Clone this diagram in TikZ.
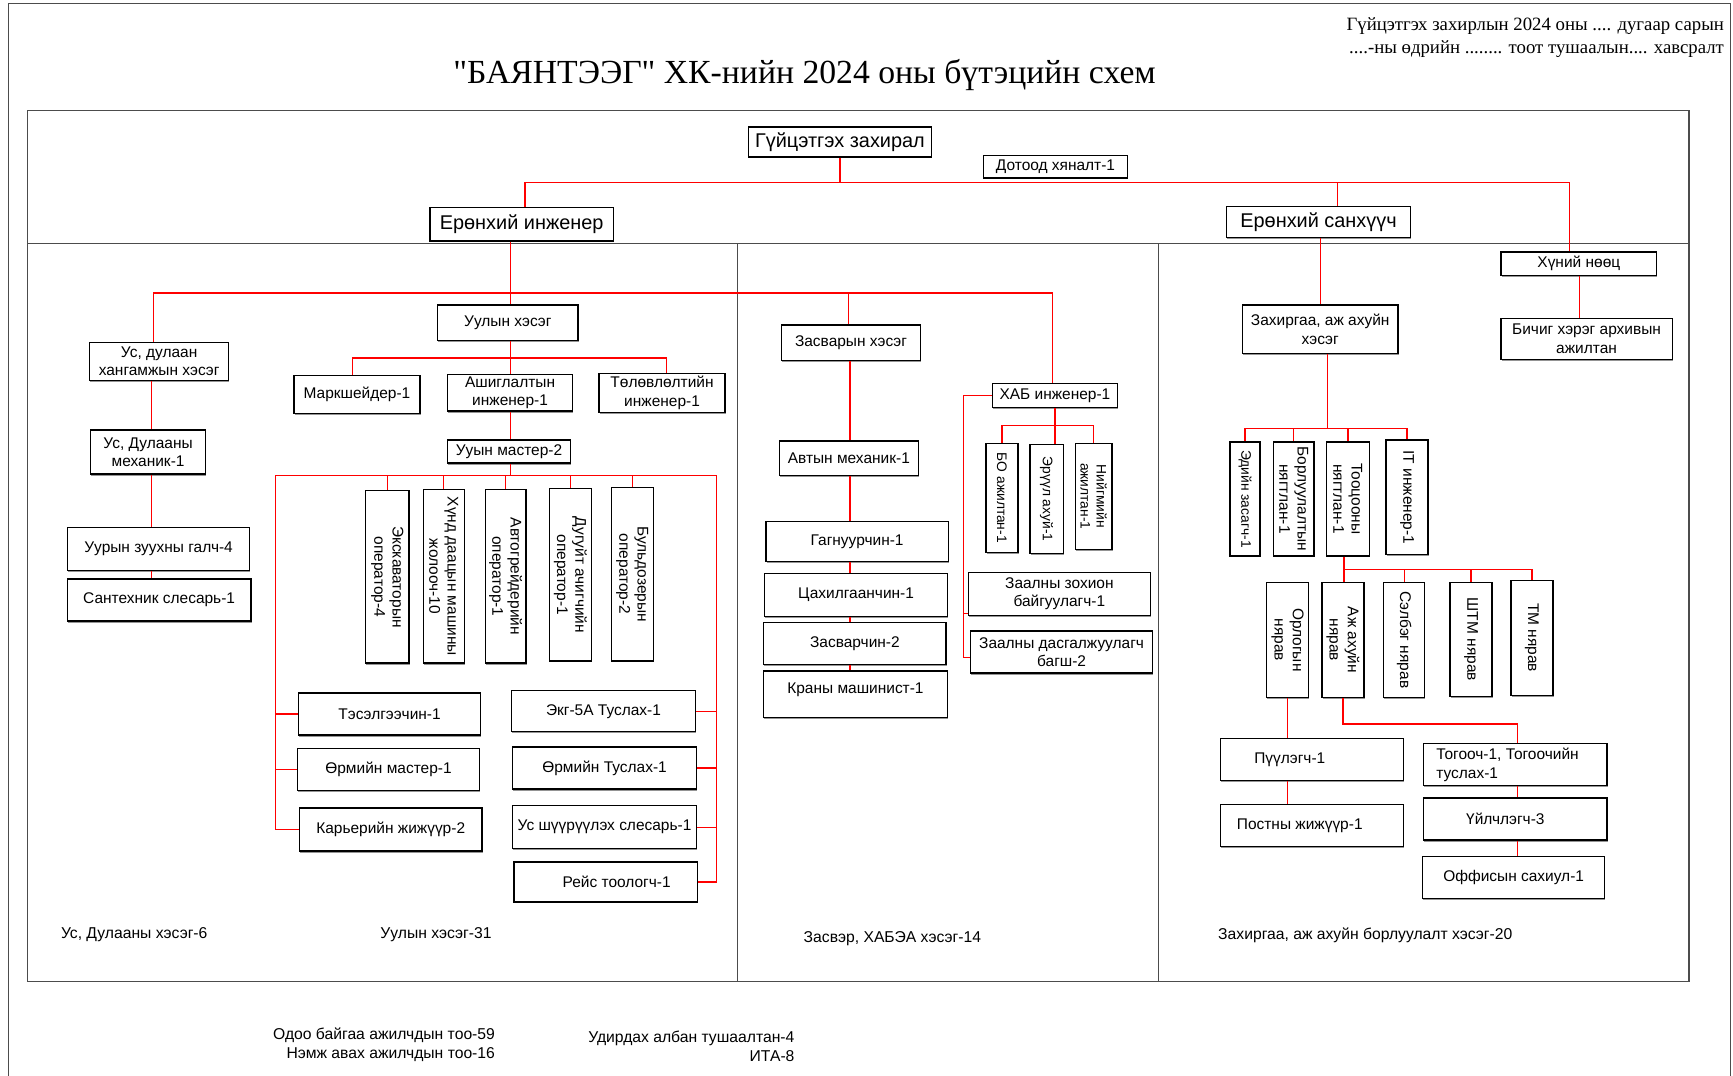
\documentclass[tikz,border=0pt]{standalone}
\usepackage{fontspec}
\setmainfont{Liberation Sans}
\newfontfamily\serifrm{Liberation Serif}
\usetikzlibrary{shadows}
\newcommand\mybox[7][]{\node[box,minimum width={(#4)-(#3)},minimum height={(#6)-(#5)},#1] (#2) at ({((#3)+(#4))/2},{((#5)+(#6))/2}) {#7};}
\newcommand\myvbox[7][]{\node[box,rotate=-90,minimum width={(#6)-(#5)},minimum height={(#4)-(#3)},#1] (#2) at ({((#3)+(#4))/2},{((#5)+(#6))/2}) {#7};}
\begin{document}
\begin{tikzpicture}[x=1pt,y=-1pt,
  box/.style={draw=black, line width=1.2pt, fill=white, inner sep=1pt, align=center,
    font=\fontsize{14}{16.5}\selectfont,
    drop shadow={shadow xshift=0.6pt, shadow yshift=-1.4pt, fill=black!60, opacity=0.7}},
  big/.style={font=\fontsize{18}{20}\selectfont},
  small/.style={font=\fontsize{12.5}{14.5}\selectfont},
  link/.style={draw=red, line width=1.2pt},
  frame/.style={draw=black!70, line width=1pt},
  lbl/.style={font=\fontsize{14.2}{17}\selectfont, inner sep=0pt},
]
\useasboundingbox (0,0) rectangle (1568,973.5);
% page borders
\draw[frame] (8,974) -- (8,3) -- (1566,3) -- (1566,974);
% main frame
\draw[frame, line width=1.3pt] (25,100) rectangle (1528,888);
\draw[frame] (25,220) -- (1528,220);
\draw[frame] (667,220) -- (667,888);
\draw[frame] (1048,220) -- (1048,888);

% titles
\node[font=\serifrm\fontsize{30.5}{33}\selectfont, inner sep=0pt] (title) at (728,68) {"БАЯНТЭЭГ" ХК-нийн 2024 оны бүтэцийн схем};
\node[font=\serifrm\fontsize{17}{20}\selectfont, align=right, anchor=east, inner sep=0pt] (order) at (1560,34) {Гүйцэтгэх захирлын 2024 оны .... дугаар сарын\\....-ны өдрийн ........ тоот тушаалын.... хавсралт};

% top band
\mybox[big]{ceo}{677}{843}{115}{142}{Гүйцэтгэх захирал}
\mybox{audit}{890}{1020}{141}{161}{Дотоод хяналт-1}
\mybox{ei}{389}{555}{188}{218}{}
\node[font=\fontsize{18}{20}\selectfont, inner sep=0pt] (eit) at (ei.center) {Ерөнхий инженер};
\mybox[big]{cfo}{1110}{1276}{187}{215}{Ерөнхий санхүүч}
\mybox{hr}{1358}{1499}{228}{249}{Хүний нөөц}

% water section
\mybox{water}{81}{207}{310}{344}{Ус, дулаан\\хангамжын хэсэг}
\mybox{mech}{82}{186}{389}{429}{Ус, Дулааны\\механик-1}
\mybox{boiler}{61}{226}{477}{516}{Уурын зуухны галч-4}
\mybox{plumb}{61}{227}{524}{562}{Сантехник слесарь-1}

% mining section
\mybox{mining}{396}{523}{276}{308}{Уулын хэсэг}
\mybox{marks}{266}{380}{340}{374}{Маркшейдер-1}
\mybox{ashig}{405}{518}{339}{372}{Ашиглалтын\\инженер-1}
\mybox{plan}{542}{656}{338}{373}{Төлөвлөлтийн\\инженер-1}
\mybox{master}{405}{516}{398}{419}{Ууын мастер-2}
\myvbox{exc}{331}{370}{444}{600}{Экскаваторын\\оператор-4}
\myvbox{truck}{383}{420}{443}{600}{Хүнд даацын машины\\жолооч-10}
\myvbox{grader}{439}{476}{443}{600}{Автогрейдерийн\\оператор-1}
\myvbox{loader}{497}{535}{442}{598}{Дугуйт ачигчийн\\оператор-1}
\myvbox{dozer}{553}{591}{441}{598}{Бульдозерын\\оператор-2}
\mybox{blast}{270}{435}{627}{665}{Тэсэлгээчин-1}
\mybox{drillm}{269}{434}{677}{715}{Өрмийн мастер-1}
\mybox{guard}{271}{436}{731}{770}{Карьерийн жижүүр-2}
\mybox{ekg}{463}{629}{625}{662}{Экг-5А Туслах-1}
\mybox{drilla}{464}{630}{676}{714}{Өрмийн Туслах-1}
\mybox{pump}{464}{630}{729}{768}{Ус шүүрүүлэх слесарь-1}
\mybox{trip}{465}{631}{780}{816}{\hspace*{20pt}Рейс тоологч-1}

% repair section
\mybox{repair}{707}{833}{294}{326}{Засварын хэсэг}
\mybox{automech}{705}{831}{399}{430}{Автын механик-1}
\mybox{weld}{693}{858}{472}{508}{Гагнуурчин-1}
\mybox{elec}{692}{857}{519}{558}{Цахилгаанчин-1}
\mybox{fitter}{691}{856}{563}{601}{Засварчин-2}
\mybox{crane}{691}{857}{607}{649}{Краны машинист-1\\[-6pt]}
\mybox{hse}{898}{1011}{347}{369}{ХАБ инженер-1}
\myvbox[small]{bo}{892}{921}{401}{500}{БО ажилтан-1}
\myvbox[small]{hyg}{932}{962}{402}{501}{Эрүүл ахуй-1}
\myvbox[small]{soc}{973}{1006}{401}{497}{Нийгмийн\\ажилтан-1}
\mybox{hall1}{876}{1041}{518}{557}{Заалны зохион\\байгуулагч-1}
\mybox{hall2}{878}{1043}{571}{609}{Заалны дасгалжуулагч\\багш-2}

% admin section
\mybox{admin}{1124}{1265}{276}{320}{Захиргаа, аж ахуйн\\хэсэг}
\mybox{archive}{1358}{1513}{288}{325}{Бичиг хэрэг архивын\\ажилтан}
\myvbox[small]{econ}{1113}{1140}{400}{503}{Эдийн засагч-1}
\myvbox{sales}{1152}{1189}{400}{503}{Борлуулалтын\\нягтлан-1}
\myvbox{acct}{1200}{1239}{400}{503}{Тооцооны\\нягтлан-1}
\myvbox{it}{1254}{1292}{398}{502}{IT инженер-1}
\myvbox{inc}{1146}{1184}{527}{631}{Орлогын\\нярав}
\myvbox{ahn}{1196}{1234}{527}{631}{Аж ахуйн\\нярав}
\myvbox{spare}{1252}{1289}{527}{631}{Сэлбэг нярав}
\myvbox{shtm}{1312}{1350}{527}{630}{ШТМ нярав}
\myvbox{tm}{1367}{1405}{525}{629}{ТМ нярав}
\mybox{stoker}{1104}{1270}{668}{706}{Пүүлэгч-1\hspace*{40pt}}
\mybox{post}{1104}{1270}{728}{766}{Постны жижүүр-1\hspace*{22pt}}
\mybox[align=left]{cook}{1288}{1454}{673}{711}{Тогооч-1, Тогоочийн\hspace*{14pt}\\туслах-1}
\mybox{cleaner}{1288}{1454}{722}{760}{Үйлчлэгч-3\hspace*{18pt}}
\mybox{watch}{1287}{1452}{775}{813}{Оффисын сахиул-1}

% section labels
\node[lbl, anchor=west] (l1) at (55,846) {Ус, Дулааны хэсэг-6};
\node[lbl, anchor=west] (l2) at (344,846) {Уулын хэсэг-31};
\node[lbl, anchor=west] (l3) at (727,849) {Засвэр, ХАБЭА хэсэг-14};
\node[lbl, anchor=west] (l4) at (1102,846) {Захиргаа, аж ахуйн борлуулалт хэсэг-20};
\node[lbl, anchor=east, align=right] (n1) at (448,945.5) {Одоо байгаа ажилчдын тоо-59\\Нэмж авах ажилчдын тоо-16};
\node[lbl, anchor=east, align=right] (n2) at (719,946.5) {Удирдах албан тушаалтан-4\\ИТА-8};

% ---- connectors ----
\coordinate (t1) at (475,165); \coordinate (t2) at (1420,165); \coordinate (t3) at (1210,165);
\draw[link] (ceo.south) -- (ceo.south |- t1);
\draw[link] (ei.north -| t1) -- (t1) -- (t2) -- (hr.north -| t2);
\draw[link] (t3) -- (cfo.north -| t3);

\coordinate (b2a) at (139,265); \coordinate (m0) at (462,265);
\coordinate (b2c) at (768,265); \coordinate (b2d) at (952,265);
\draw[link] (ei.south -| m0) -- (m0);
\draw[link] (water.north -| b2a) -- (b2a) -- (b2d) -- (hse.north -| b2d);
\draw[link] (m0) -- (mining.north -| m0);
\draw[link] (b2c) -- (repair.north -| b2c);

\coordinate (wx) at (137,0);
\draw[link] (water.south -| wx) -- (mech.north -| wx);
\draw[link] (mech.south -| wx) -- (boiler.north -| wx);
\draw[link] (boiler.south -| wx) -- (plumb.north -| wx);

\coordinate (u1) at (319,324); \coordinate (u2) at (603,324); \coordinate (ux) at (462,0);
\draw[link] (mining.south -| ux) -- (ashig.north -| ux);
\draw[link] (marks.north -| u1) -- (u1) -- (u2) -- (plan.north -| u2);
\draw[link] (ashig.south -| ux) -- (master.north -| ux);
\coordinate (v1) at (249,430); \coordinate (v2) at (648,430);
\draw[link] (master.south -| ux) -- (ux |- v1);
\draw[link] (guard.west) -| (v1) -- (v2) |- (trip.east);
\draw[link] (v1 |- blast.west) -- (blast.west);
\draw[link] (v1 |- drillm.west) -- (drillm.west);
\draw[link] (v2 |- ekg.east) -- (ekg.east);
\draw[link] (v2 |- drilla.east) -- (drilla.east);
\draw[link] (v2 |- pump.east) -- (pump.east);
\foreach \n in {exc,truck,grader,loader,dozer} \draw[link] (\n.west |- v1) -- (\n.west);

\coordinate (rx) at (769,0);
\draw[link] (repair.south -| rx) -- (automech.north -| rx);
\draw[link] (automech.south -| rx) -- (weld.north -| rx);
\draw[link] (weld.south -| rx) -- (elec.north -| rx);
\draw[link] (elec.south -| rx) -- (fitter.north -| rx);
\draw[link] (fitter.south -| rx) -- (crane.north -| rx);

\coordinate (h1) at (872,555); \coordinate (h2) at (872,595);
\draw[link] (hse.west) -| (h2) -- (h2 -| hall2.west);
\draw[link] (h1) -- (h1 -| hall1.west);
\coordinate (hb) at (0,385);
\draw[link] (hse.south) -- (hse.south |- hyg.west);
\draw[link] (bo.west) -- (bo.west |- hb) -- (soc.west |- hb) -- (soc.west);

\coordinate (ax) at (1195,0); \coordinate (hx) at (1429,0);
\draw[link] (cfo.south -| ax) -- (admin.north -| ax);
\draw[link] (hr.south -| hx) -- (archive.north -| hx);
\coordinate (ab) at (1201,388);
\draw[link] (admin.south -| ab) -- (ab);
\draw[link] (econ.west) -- (econ.west |- ab) -- (it.west |- ab) -- (it.west);
\draw[link] (sales.west |- ab) -- (sales.west);
\draw[link] (acct.west |- ab) -- (acct.west);
\coordinate (nb) at (1216,515);
\draw[link] (acct.east -| nb) -- (ahn.west -| nb);
\draw[link] (nb) -- (tm.west |- nb) -- (tm.west);
\draw[link] (spare.west |- nb) -- (spare.west);
\draw[link] (shtm.west |- nb) -- (shtm.west);
\draw[link] (inc.east) -- (stoker.north -| inc.east);
\draw[link] (stoker.south -| inc.east) -- (post.north -| inc.east);
\coordinate (cx1) at (1373,655);
\draw[link] (ahn.east) |- (cx1) -- (cook.north -| cx1);
\draw[link] (cook.south -| cx1) -- (cleaner.north -| cx1);
\draw[link] (cleaner.south -| cx1) -- (watch.north -| cx1);
\end{tikzpicture}
\end{document}
